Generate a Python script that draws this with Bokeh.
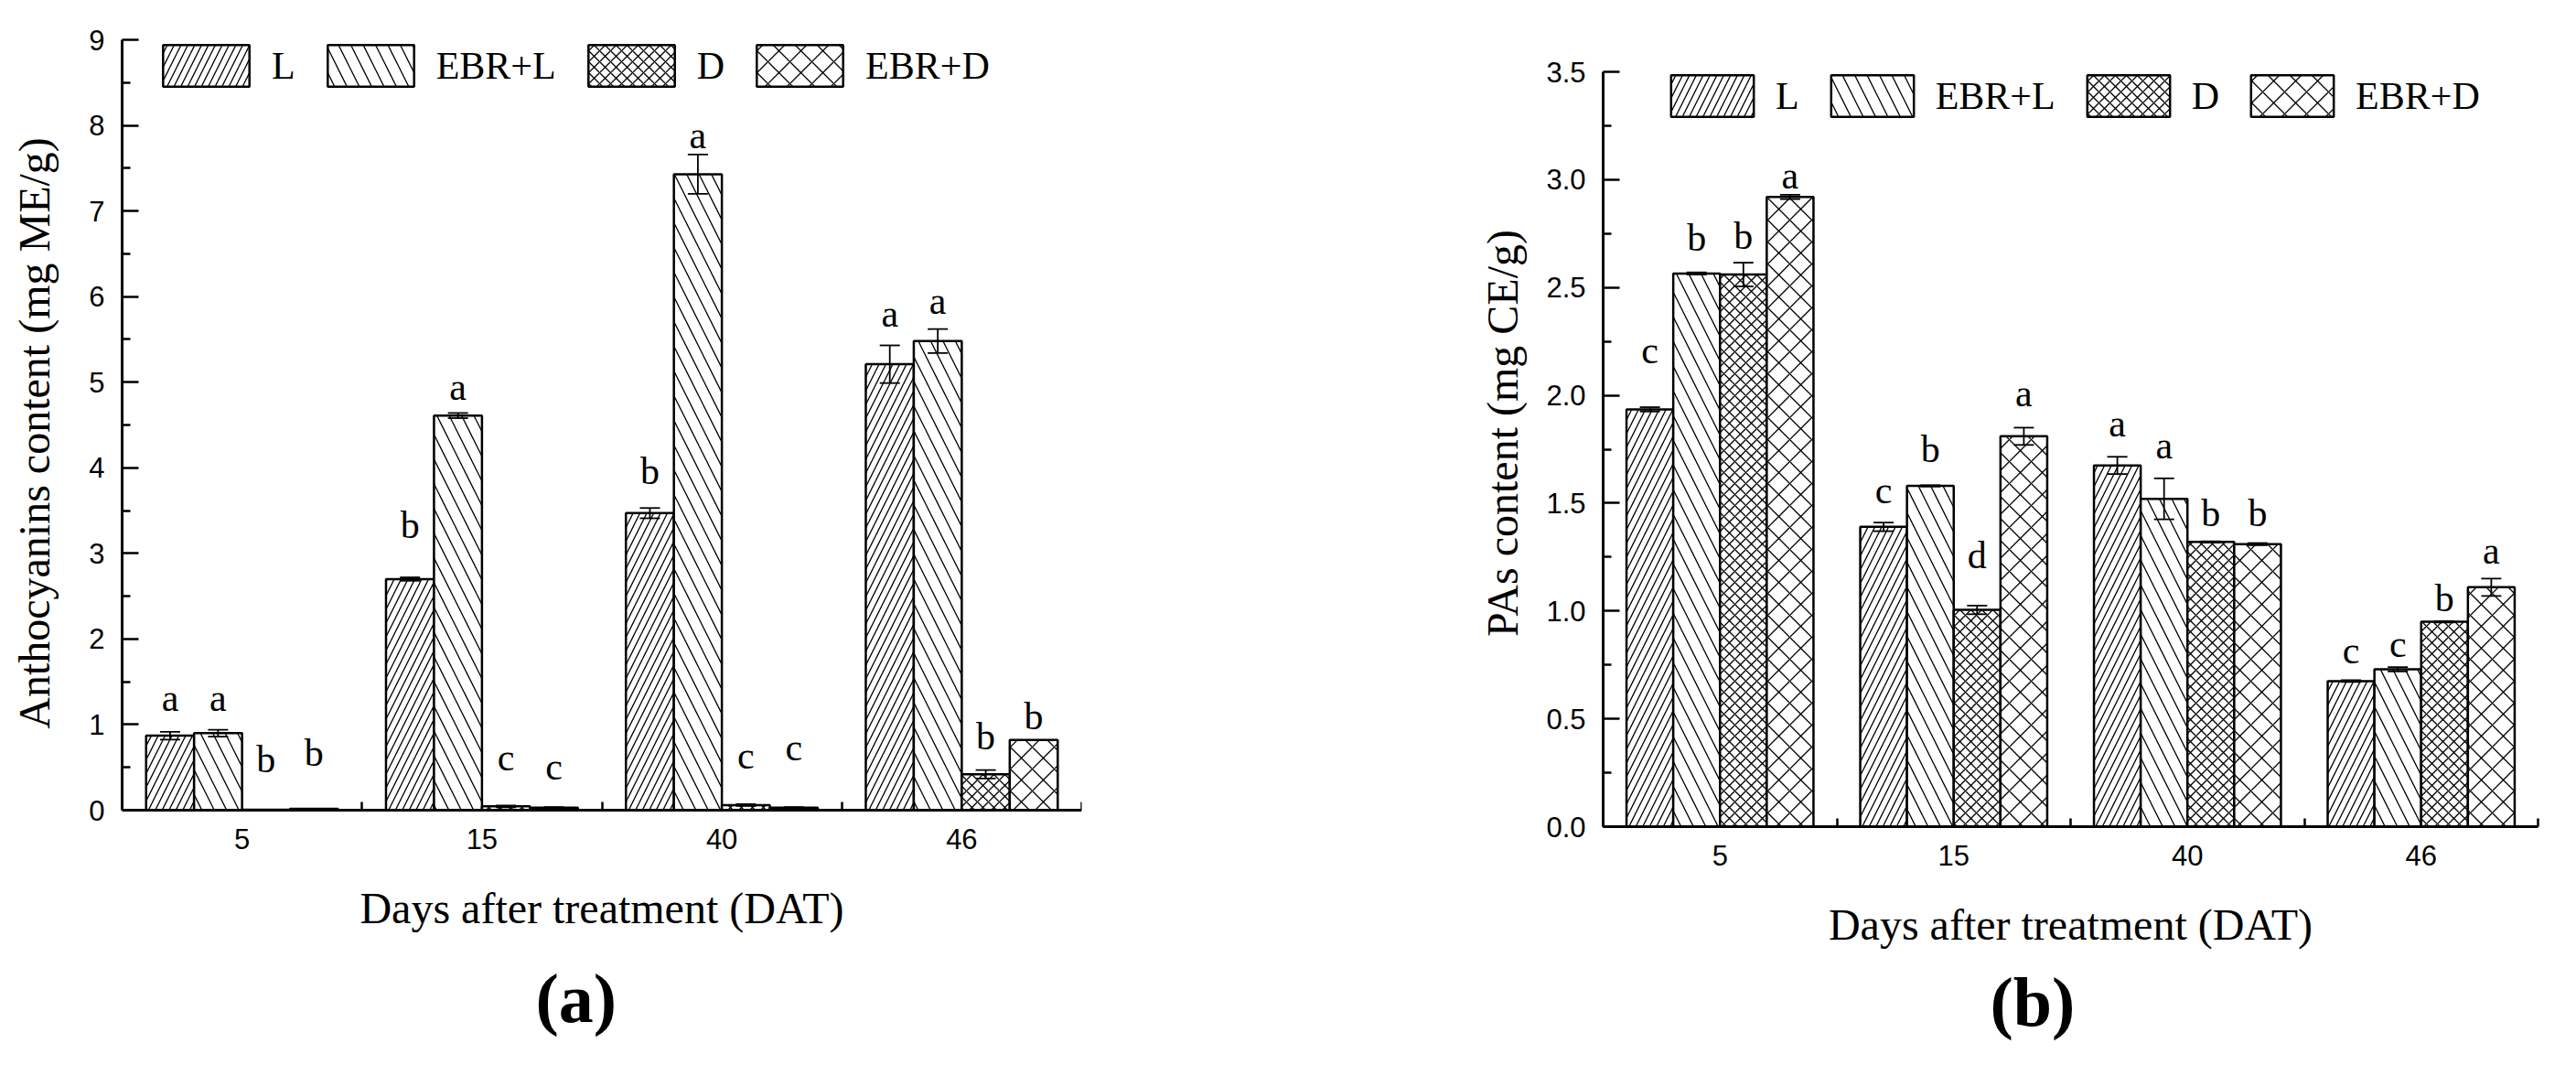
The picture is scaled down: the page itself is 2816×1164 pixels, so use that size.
from bokeh.plotting import figure
from bokeh.models import (ColumnDataSource, Whisker, TeeHead, FixedTicker, Range1d, LinearAxis,
                          Legend, LegendItem, Title, NumeralTickFormatter, BasicTickFormatter)
from bokeh.layouts import row
from bokeh.core.properties import value
from bokeh.embed import file_html
from bokeh.resources import INLINE

# ---------------- data ----------------
categories = ["5", "15", "40", "46"]
treatments = ["L", "EBR+L", "D", "EBR+D"]

# (a) Anthocyanins content (mg ME/g)
antho_L = [0.87, 2.70, 3.47, 5.21]
antho_EBRL = [0.90, 4.61, 7.43, 5.48]
antho_D = [0.005, 0.045, 0.06, 0.42]
antho_EBRD = [0.015, 0.03, 0.03, 0.82]
antho_err_L = [0.045, 0.02, 0.06, 0.22]
antho_err_EBRL = [0.04, 0.03, 0.23, 0.14]
antho_err_D = [0.0, 0.01, 0.01, 0.05]
antho_err_EBRD = [0.0, 0.005, 0.005, 0.0]
antho_let_L = ["a", "b", "b", "a"]
antho_let_EBRL = ["a", "a", "a", "a"]
antho_let_D = ["b", "c", "c", "b"]
antho_let_EBRD = ["b", "c", "c", "b"]
antho_lety_L = [1.31, 3.33, 3.96, 5.80]
antho_lety_EBRL = [1.31, 4.94, 7.88, 5.95]
antho_lety_D = [0.59, 0.61, 0.64, 0.86]
antho_lety_EBRD = [0.67, 0.51, 0.73, 1.10]

# (b) PAs content (mg CE/g)
pas_L = [1.935, 1.39, 1.675, 0.675]
pas_EBRL = [2.565, 1.58, 1.52, 0.73]
pas_D = [2.56, 1.005, 1.32, 0.95]
pas_EBRD = [2.92, 1.81, 1.31, 1.11]
pas_err_L = [0.01, 0.02, 0.04, 0.004]
pas_err_EBRL = [0.005, 0.003, 0.095, 0.01]
pas_err_D = [0.055, 0.02, 0.003, 0.003]
pas_err_EBRD = [0.01, 0.04, 0.005, 0.04]
pas_let_L = ["c", "c", "a", "c"]
pas_let_EBRL = ["b", "b", "a", "c"]
pas_let_D = ["b", "d", "b", "b"]
pas_let_EBRD = ["a", "a", "b", "a"]
pas_lety_L = [2.21, 1.56, 1.87, 0.815]
pas_lety_EBRL = [2.73, 1.75, 1.765, 0.845]
pas_lety_D = [2.74, 1.26, 1.455, 1.06]
pas_lety_EBRD = [3.02, 2.01, 1.455, 1.28]

antho_ticks = [0, 1, 2, 3, 4, 5, 6, 7, 8, 9]
antho_minor = [0.5, 1.5, 2.5, 3.5, 4.5, 5.5, 6.5, 7.5, 8.5]
pas_ticks = [0.0, 0.5, 1.0, 1.5, 2.0, 2.5, 3.0, 3.5]
pas_minor = [0.25, 0.75, 1.25, 1.75, 2.25, 2.75, 3.25]

# ---------------- style / layout ----------------
SERIF = "Liberation Serif"
SANS = "Liberation Sans"
hatches = [("/", 15), ("\\", 27), ("x", 12), ("x", 24)]
offsets = [-0.3, -0.1, 0.1, 0.3]

HEIGHT = 1164
BORDER_TOP = 43
BORDER_BOTTOM = 261
FRAME_H = HEIGHT - BORDER_TOP - BORDER_BOTTOM  # 860, same for both panels
TICK_STANDOFF = 20


def style_x_labels(ax, standoff):
    ax.major_label_text_font = SANS
    ax.major_label_text_font_size = "31px"
    ax.major_label_text_color = "black"
    ax.major_label_standoff = standoff
    ax.axis_label = "Days after treatment (DAT)"
    ax.axis_label_text_font = SERIF
    ax.axis_label_text_font_size = "48px"
    ax.axis_label_text_font_style = "normal"
    ax.axis_label_text_color = "black"
    ax.axis_label_standoff = 35


def style_x_line(ax):
    ax.major_tick_in = 0
    ax.major_tick_out = 0
    ax.minor_tick_in = 9
    ax.minor_tick_out = 0
    ax.minor_tick_line_width = 2.5
    ax.minor_tick_line_color = "black"
    ax.axis_line_width = 3
    ax.axis_line_color = "black"


def make_panel(vals, errs, lets, letys, ymax, ticks, minor, fmt, ylabel, caption,
               width, bl, br, gap_top, gap_bottom, leg_x, leg_top, glyph_w,
               ylab_standoff, cap_x, cap_standoff):
    ppu = (FRAME_H - gap_top - gap_bottom) / ymax
    y0 = -gap_bottom / ppu
    y1 = ymax + gap_top / ppu
    p = figure(width=width, height=HEIGHT, output_backend="svg", toolbar_location=None,
               x_range=Range1d(0, len(categories)), y_range=Range1d(y0, y1),
               min_border_left=bl, min_border_right=br,
               min_border_top=BORDER_TOP, min_border_bottom=BORDER_BOTTOM)
    p.title_location = None
    p.outline_line_color = None
    p.xgrid.visible = False
    p.ygrid.visible = False
    p.background_fill_color = "white"
    p.border_fill_color = "white"

    items = []
    for i, t in enumerate(treatments):
        xs = [g + 0.5 + offsets[i] for g in range(len(categories))]
        src = ColumnDataSource(dict(x=xs, top=vals[i], lt=lets[i], ly=letys[i]))
        pat, sc = hatches[i]
        r = p.vbar(x="x", top="top", width=0.2, bottom=0, source=src,
                   fill_color="white", line_color="black", line_width=2.5,
                   hatch_pattern=pat, hatch_scale=sc, hatch_weight=1.3, hatch_color="black")
        items.append(LegendItem(label=t, renderers=[r]))
        wx = [x for x, e in zip(xs, errs[i]) if e > 0]
        wu = [v + e for v, e in zip(vals[i], errs[i]) if e > 0]
        wl = [v - e for v, e in zip(vals[i], errs[i]) if e > 0]
        if wx:
            wsrc = ColumnDataSource(dict(x=wx, up=wu, lo=wl))
            w = Whisker(source=wsrc, base="x", upper="up", lower="lo",
                        line_width=1.8, line_color="black",
                        upper_head=TeeHead(size=22, line_width=1.8, line_color="black"),
                        lower_head=TeeHead(size=22, line_width=1.8, line_color="black"))
            w.level = "overlay"
            p.add_layout(w)
        p.text(x="x", y="ly", text="lt", source=src, text_font=value(SERIF),
               text_font_size="42px", text_align="center", text_baseline="alphabetic",
               text_color="black")

    leg = Legend(items=items, orientation="horizontal",
                 location=(leg_x, FRAME_H - leg_top - 57),
                 glyph_width=glyph_w, glyph_height=57, label_height=57,
                 label_standoff=13, spacing=23, padding=0, margin=0,
                 border_line_color=None, background_fill_alpha=0,
                 label_text_font=SERIF, label_text_font_size="42px",
                 label_text_color="black")
    p.add_layout(leg)

    centers = [g + 0.5 for g in range(len(categories))]
    bounds_ticks = list(range(len(categories) + 1))

    # x axis: tick labels + axis title (in the panel under the frame)
    xa = p.xaxis[0]
    xa.ticker = FixedTicker(ticks=centers, minor_ticks=bounds_ticks)
    xa.major_label_overrides = {c: lab for c, lab in zip(centers, categories)}
    if gap_bottom > 0:
        # line & ticks drawn by a second axis placed at y = 0
        xa.axis_line_color = None
        xa.major_tick_in = 0
        xa.major_tick_out = 0
        xa.minor_tick_in = 0
        xa.minor_tick_out = 0
        xa.minor_tick_line_color = None
        style_x_labels(xa, TICK_STANDOFF - gap_bottom)
    else:
        style_x_line(xa)
        style_x_labels(xa, TICK_STANDOFF)

    # y axis
    ya = p.yaxis[0]
    ya.bounds = (0, ymax)
    ya.ticker = FixedTicker(ticks=ticks, minor_ticks=minor)
    ya.formatter = fmt
    ya.major_tick_in = 18
    ya.major_tick_out = 0
    ya.minor_tick_in = 9
    ya.minor_tick_out = 0
    ya.major_tick_line_width = 2.5
    ya.minor_tick_line_width = 2.5
    ya.major_tick_line_color = "black"
    ya.minor_tick_line_color = "black"
    ya.axis_line_width = 3
    ya.axis_line_color = "black"
    ya.major_label_text_font = SANS
    ya.major_label_text_font_size = "31px"
    ya.major_label_text_color = "black"
    ya.major_label_standoff = 19
    ya.axis_label = ylabel
    ya.axis_label_text_font = SERIF
    ya.axis_label_text_font_size = "48px"
    ya.axis_label_text_font_style = "normal"
    ya.axis_label_text_color = "black"
    ya.axis_label_standoff = ylab_standoff

    cap = Title(text=caption, align="left", offset=cap_x,
                text_font=SERIF, text_font_size="76px", text_font_style="bold",
                text_color="black", standoff=cap_standoff)
    p.add_layout(cap, "below")

    if gap_bottom > 0:
        xl = LinearAxis(fixed_location=0,
                        ticker=FixedTicker(ticks=[], minor_ticks=bounds_ticks))
        style_x_line(xl)
        xl.major_label_text_font_size = "0px"
        xl.major_label_standoff = 0
        xl.axis_label_standoff = 0
        p.add_layout(xl, "below")
    return p


# left panel: frame x 133..1182, axis 0..9 spans y 43..885
p1 = make_panel(
    [antho_L, antho_EBRL, antho_D, antho_EBRD],
    [antho_err_L, antho_err_EBRL, antho_err_D, antho_err_EBRD],
    [antho_let_L, antho_let_EBRL, antho_let_D, antho_let_EBRD],
    [antho_lety_L, antho_lety_EBRL, antho_lety_D, antho_lety_EBRD],
    9, antho_ticks, antho_minor, BasicTickFormatter(),
    "Anthocyanins content (mg ME/g)", "(a)",
    1500, 133, 318, 0, 18, 33, 0, 118, 30, 452, 51)

# right panel: frame x 1752..2774, axis 0..3.5 spans y 78..903
p2 = make_panel(
    [pas_L, pas_EBRL, pas_D, pas_EBRD],
    [pas_err_L, pas_err_EBRL, pas_err_D, pas_err_EBRD],
    [pas_let_L, pas_let_EBRL, pas_let_D, pas_let_EBRD],
    [pas_lety_L, pas_lety_EBRL, pas_lety_D, pas_lety_EBRD],
    3.5, pas_ticks, pas_minor, NumeralTickFormatter(format="0.0"),
    "PAs content (mg CE/g)", "(b)",
    1316, 252, 42, 35, 0, 63, 33, 113, 18, 423, 22)

layout = row(p1, p2)
open("out.html", "w").write(file_html(layout, INLINE))
